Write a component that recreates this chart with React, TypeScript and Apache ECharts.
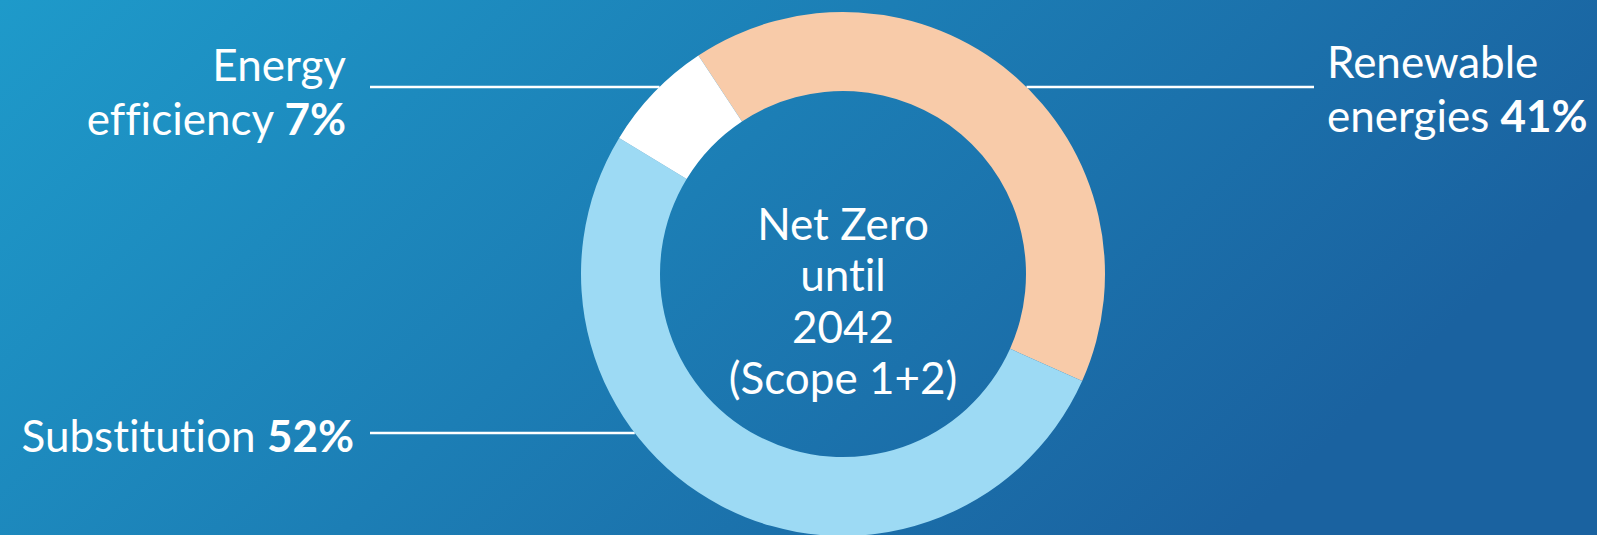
import React, { useEffect, useRef } from "react";
import * as echarts from "echarts";

const categories = ["Renewable energies", "Substitution", "Energy efficiency"];
const values = [41, 52, 7];
const sliceColors = ["#f8cba9", "#9ddaf4", "#ffffff"];
const labelLines = [
  ["Renewable", "energies"],
  ["Substitution"],
  ["Energy", "efficiency"],
];
const centerLines = ["Net Zero", "until", "2042", "(Scope 1+2)"];

const W = 1597;
const H = 535;
const CX = 843;
const CY = 274;
const R_OUT = 262;
const R_IN = 183;
const FONT = "Lato, 'Open Sans', sans-serif";
const FS = 44;

export default function App() {
  const ref = useRef<HTMLDivElement>(null);
  useEffect(() => {
    document.body.style.margin = "0";
    const st = document.createElement("style");
    st.textContent =
      "svg text, svg tspan { font-variant-ligatures: none !important; font-feature-settings: 'liga' 0, 'clig' 0, 'dlig' 0, 'calt' 0 !important; }";
    document.head.appendChild(st);
    const chart = echarts.init(ref.current!, null, { renderer: "svg" });
    const edgeX = (y: number, side: number) =>
      CX + side * Math.sqrt(R_OUT * R_OUT - (y - CY) * (y - CY));

    const pct = (i: number) => `${values[i]}%`;
    const mk = (i: number) => {
      const ls = labelLines[i];
      const last = ls.length - 1;
      return ls
        .map((l, k) => (k === last ? `${l} {b|${pct(i)}}` : l))
        .join("\n");
    };
    const rich = {
      b: { fontFamily: FONT, fontSize: FS, fontWeight: "bold", fill: "#fff", lineHeight: 54 },
    };
    const textStyle = {
      fill: "#ffffff",
      fontFamily: FONT,
      fontSize: FS,
      lineHeight: 54,
      rich,
    };

    const yTop = 87;
    const ySub = 433;

    chart.setOption({
      animation: false,
      backgroundColor: new echarts.graphic.LinearGradient(0, 0, 1, 0.35, [
        { offset: 0, color: "#1e9aca" },
        { offset: 1, color: "#1a62a0" },
      ]),
      series: [
        {
          type: "pie",
          center: [CX, CY],
          radius: [R_IN, R_OUT],
          startAngle: 123.5,
          clockwise: true,
          label: { show: false },
          labelLine: { show: false },
          emphasis: { disabled: true },
          itemStyle: { borderWidth: 0 },
          data: categories.map((c, i) => ({
            name: c,
            value: values[i],
            itemStyle: { color: sliceColors[i] },
          })),
        },
      ],
      graphic: [
        {
          type: "line",
          shape: { x1: 370, y1: yTop, x2: edgeX(yTop, -1), y2: yTop },
          style: { stroke: "#ffffff", lineWidth: 2.5 },
          z: -1,
        },
        {
          type: "line",
          shape: { x1: edgeX(yTop, 1), y1: yTop, x2: 1314, y2: yTop },
          style: { stroke: "#ffffff", lineWidth: 2.5 },
          z: -1,
        },
        {
          type: "line",
          shape: { x1: 370, y1: ySub, x2: edgeX(ySub, -1), y2: ySub },
          style: { stroke: "#ffffff", lineWidth: 2.5 },
          z: -1,
        },
        {
          type: "text",
          x: 346,
          y: 90.5,
          style: { ...textStyle, text: mk(2), align: "right", verticalAlign: "middle" },
        },
        {
          type: "text",
          x: 1327,
          y: 88,
          style: { ...textStyle, text: mk(0), align: "left", verticalAlign: "middle" },
        },
        {
          type: "text",
          x: 354,
          y: 435,
          style: { ...textStyle, text: mk(1), align: "right", verticalAlign: "middle" },
        },
        {
          type: "text",
          x: CX,
          y: 300,
          style: {
            text: centerLines.join("\n"),
            fill: "#ffffff",
            fontFamily: FONT,
            fontSize: FS,
            lineHeight: 51.5,
            align: "center",
            verticalAlign: "middle",
          },
        },
      ],
    });
    return () => {
      chart.dispose();
      st.remove();
    };
  }, []);
  return <div ref={ref} style={{ width: W, height: H }} />;
}
